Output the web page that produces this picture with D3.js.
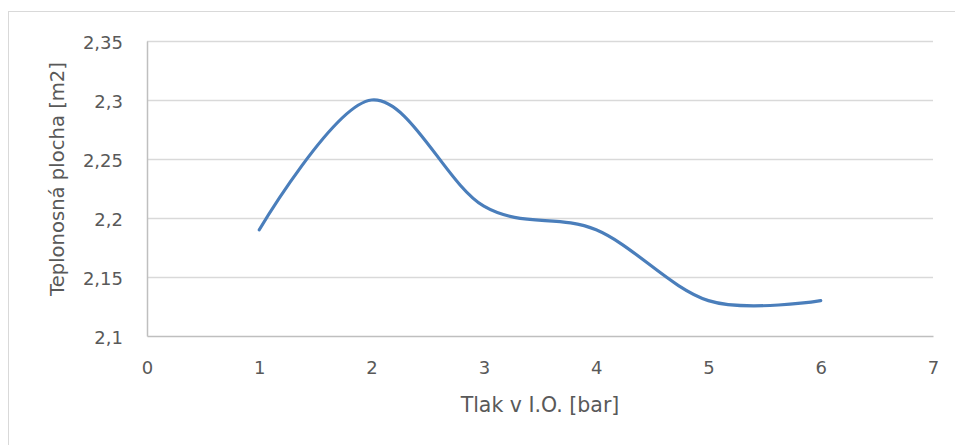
<!DOCTYPE html>
<html>
<head>
<meta charset="utf-8">
<script src="https://cdn.jsdelivr.net/npm/d3@7"></script>
<style>
  html, body { margin: 0; padding: 0; background: #fff; }
  svg { display: block; }
  text { font-family: "DejaVu Sans", Verdana, sans-serif; fill: #595959; }
</style>
</head>
<body>
<script>
// Pressure in the inner tube vs. required heat-transfer area
const pressure = [1, 2, 3, 4, 5, 6];
const area = [2.19, 2.30, 2.21, 2.19, 2.13, 2.13];
const xTicks = [0, 1, 2, 3, 4, 5, 6, 7];
const yTicks = [2.1, 2.15, 2.2, 2.25, 2.3, 2.35];
const xTitle = "Tlak v I.O. [bar]";
const yTitle = "Teplonosná plocha [m2]";

const W = 955, H = 445;
const plot = { left: 147, right: 933, top: 41, bottom: 336 };
const FONT = '"DejaVu Sans", Verdana, sans-serif';

const svg = d3.select("body").append("svg")
  .attr("width", W).attr("height", H);

// chart frame
svg.append("rect")
  .attr("x", 8.5).attr("y", 11.5)
  .attr("width", W).attr("height", H)
  .attr("fill", "#fff").attr("stroke", "#d9d9d9").attr("stroke-width", 1);

const x = d3.scaleLinear().domain([0, 7]).range([plot.left, plot.right]);
const y = d3.scaleLinear().domain([2.1, 2.35]).range([plot.bottom, plot.top]);

const fmt = v => String(+v.toFixed(2)).replace(".", ",");

// horizontal gridlines
svg.append("g")
  .selectAll("line")
  .data(yTicks.filter(v => v > 2.1))
  .join("line")
  .attr("x1", plot.left).attr("x2", plot.right)
  .attr("y1", d => Math.round(y(d)) + 0.5).attr("y2", d => Math.round(y(d)) + 0.5)
  .attr("stroke", "#d9d9d9").attr("stroke-width", 1.3);

// axes
const yAxis = svg.append("g")
  .attr("transform", `translate(${plot.left},0)`)
  .call(d3.axisLeft(y).tickValues(yTicks).tickSize(0).tickPadding(24).tickFormat(fmt));
const xAxis = svg.append("g")
  .attr("transform", `translate(0,${plot.bottom})`)
  .call(d3.axisBottom(x).tickValues(xTicks).tickSize(0).tickPadding(25).tickFormat(d3.format("d")));

[yAxis, xAxis].forEach(g => {
  g.attr("font-family", FONT).attr("font-size", 18);
  g.select(".domain").attr("stroke", "#bfbfbf").attr("stroke-width", 1.5);
  g.selectAll("text").attr("fill", "#595959");
});
yAxis.selectAll("text").attr("dy", "0.4em");

// series
const line = d3.line()
  .x((d, i) => x(pressure[i]))
  .y(d => y(d))
  .curve(d3.curveCardinal.tension(0));

svg.append("path")
  .datum(area)
  .attr("d", line)
  .attr("fill", "none")
  .attr("stroke", "#4a7ebb")
  .attr("stroke-width", 3.2)
  .attr("stroke-linecap", "round")
  .attr("stroke-linejoin", "round");

// axis titles
svg.append("text")
  .attr("x", (plot.left + plot.right) / 2)
  .attr("y", 412)
  .attr("text-anchor", "middle")
  .attr("font-size", 20.5)
  .text(xTitle);

svg.append("text")
  .attr("transform", `translate(63.5,179) rotate(-90)`)
  .attr("text-anchor", "middle")
  .attr("font-size", 19.6)
  .text(yTitle);
</script>
</body>
</html>
